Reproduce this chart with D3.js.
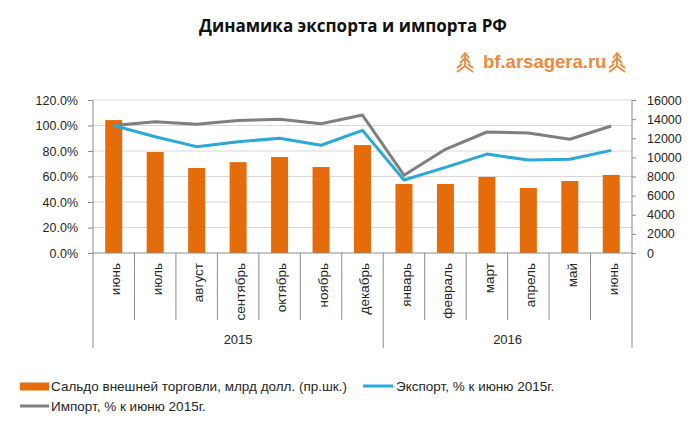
<!DOCTYPE html>
<html>
<head>
<meta charset="utf-8">
<script src="https://cdn.jsdelivr.net/npm/d3@7"></script>
<style>
html,body{margin:0;padding:0;background:#fff;}
svg{display:block;}
text{font-family:"Liberation Sans",Arial,sans-serif;fill:#262626;}
</style>
</head>
<body>
<svg id="chart" width="696" height="426"></svg>
<script>
// ---- data ----
const months = ["июнь","июль","август","сентябрь","октябрь","ноябрь","декабрь","январь","февраль","март","апрель","май","июнь"];
const years = [{label:"2015", from:0, to:7},{label:"2016", from:7, to:13}];
const balance = [13900,10560,8890,9500,10040,8990,11290,7220,7220,7950,6800,7530,8160];
const exportPct = [1.00,0.912,0.834,0.873,0.900,0.845,0.962,0.573,0.672,0.776,0.729,0.735,0.805];
const importPct = [1.00,1.030,1.010,1.040,1.049,1.014,1.082,0.610,0.813,0.949,0.941,0.892,0.996];
const leftTicks = [0,0.2,0.4,0.6,0.8,1.0,1.2];
const rightTicks = [0,2000,4000,6000,8000,10000,12000,14000,16000];
const title = "Динамика экспорта и импорта РФ";
const logoText = "bf.arsagera.ru";
const legendItems = [
  {label:"Сальдо внешней торговли, млрд долл. (пр.шк.)", type:"bar"},
  {label:"Экспорт, % к июню 2015г.", type:"export"},
  {label:"Импорт, % к июню 2015г.", type:"import"}
];

// ---- styles ----
const C = {bar:"#E46C0A", exp:"#2BA9D6", imp:"#7F7F7F", axis:"#8C8C8C", grid:"#D9D9D9", logo:"#EE8A3C"};
const L = 93, R = 632, T = 100, B = 253;

const svg = d3.select("#chart");

const x = d3.scaleBand().domain(d3.range(months.length)).range([L, R]).padding(0);
const step = x.step();
const cx = i => x(i) + step/2;
const yL = d3.scaleLinear().domain([0,1.2]).range([B,T]);
const yR = d3.scaleLinear().domain([0,16000]).range([B,T]);

// title
svg.append("text").attr("x",353).attr("y",25).attr("text-anchor","middle")
  .attr("dominant-baseline","central").style("font-family","'Open Sans','Liberation Sans',sans-serif")
  .style("font-weight","bold").style("font-size","17px").style("fill","#111").text(title);

// logo
const logo = svg.append("g");
logo.append("text").attr("x",483).attr("y",61).attr("dominant-baseline","central")
  .style("font-weight","bold").style("font-size","18.5px").style("fill",C.logo).text(logoText);
function icon(cxp, cyp){
  const g = logo.append("g").attr("transform",`translate(${cxp},${cyp})`)
    .attr("fill","none").attr("stroke",C.logo).attr("stroke-width",1.8).attr("stroke-linejoin","round");
  g.append("path").attr("d","M0,-10 L0,4");
  g.append("path").attr("d","M-4,-5 L0,-10 L4,-5");
  g.append("path").attr("d","M-5,0 L0,-5 L5,0");
  g.append("path").attr("d","M-8,9 L0,3 L8,9");
  g.append("path").attr("d","M-8,5 L-3,1 M8,5 L3,1");
}
icon(465,63); icon(617,63);

// gridlines
svg.append("g").selectAll("line").data(leftTicks.filter(d=>d>0)).join("line")
  .attr("x1",L).attr("x2",R).attr("y1",d=>yL(d)).attr("y2",d=>yL(d))
  .attr("stroke",C.grid).attr("stroke-width",1);

// left axis
const gl = svg.append("g").attr("transform",`translate(${L},0)`)
  .call(d3.axisLeft(yL).tickValues(leftTicks).tickFormat(d3.format(".1%")).tickSize(5).tickPadding(10));
// right axis
const gr = svg.append("g").attr("transform",`translate(${R},0)`)
  .call(d3.axisRight(yR).tickValues(rightTicks).tickFormat(d3.format("d")).tickSize(4).tickPadding(11));
[gl,gr].forEach(g=>{
  g.select(".domain").attr("stroke",C.axis);
  g.selectAll(".tick line").attr("stroke",C.axis);
  g.selectAll(".tick text").style("font-size","12.5px").style("fill","#262626")
    .style("font-family","'Liberation Sans',Arial,sans-serif");
});
gr.select(".domain").attr("d",`M0,${T}V${B}`);
gl.select(".domain").attr("d",`M0,${T}V${B}`);

// bars
svg.append("g").selectAll("rect").data(balance).join("rect")
  .attr("x",(d,i)=>cx(i)-8.5).attr("width",17)
  .attr("y",d=>yR(d)).attr("height",d=>B-yR(d)).attr("fill",C.bar);

// lines
const line = d3.line().x((d,i)=>cx(i)).y(d=>yL(d));
svg.append("path").datum(importPct).attr("d",line).attr("fill","none")
  .attr("stroke",C.imp).attr("stroke-width",3).attr("stroke-linejoin","round");
svg.append("path").datum(exportPct).attr("d",line).attr("fill","none")
  .attr("stroke",C.exp).attr("stroke-width",3).attr("stroke-linejoin","round");

// x axis
const gx = svg.append("g");
gx.append("line").attr("x1",L).attr("x2",R).attr("y1",B).attr("y2",B).attr("stroke",C.axis);
const bounds = d3.range(months.length+1);
const major = new Set([0,7,13]);
gx.selectAll("line.sep").data(bounds).join("line").attr("class","sep")
  .attr("x1",i=> i<months.length ? x(i) : R).attr("x2",i=> i<months.length ? x(i) : R)
  .attr("y1",B).attr("y2",i=> major.has(i)?348:320).attr("stroke",C.axis);
gx.selectAll("text.m").data(months).join("text").attr("class","m")
  .attr("transform",(d,i)=>`translate(${cx(i)+2},263) rotate(-90)`)
  .attr("text-anchor","end").attr("dy","0.35em").style("font-size","13.5px").text(d=>d);
gx.selectAll("text.y").data(years).join("text").attr("class","y")
  .attr("x",d=>(x(d.from) + (d.to<months.length?x(d.to):R))/2).attr("y",339)
  .attr("text-anchor","middle").attr("dominant-baseline","central").style("font-size","13px").text(d=>d.label);

// legend
const legPos = [{x:20,y:386.5},{x:363,y:386},{x:20,y:406}];
const lg = svg.append("g");
legendItems.forEach((it,k)=>{
  const p = legPos[k];
  if(it.type==="bar") lg.append("rect").attr("x",p.x).attr("y",p.y-4).attr("width",29).attr("height",8).attr("fill",C.bar);
  else lg.append("line").attr("x1",p.x).attr("x2",p.x+(k===1?30:29)).attr("y1",p.y).attr("y2",p.y)
    .attr("stroke",it.type==="export"?C.exp:C.imp).attr("stroke-width",3);
  lg.append("text").attr("x",p.x+(k===1?33:31)).attr("y",p.y).attr("dominant-baseline","central")
    .style("font-size","13.5px").text(it.label);
});
</script>
</body>
</html>
